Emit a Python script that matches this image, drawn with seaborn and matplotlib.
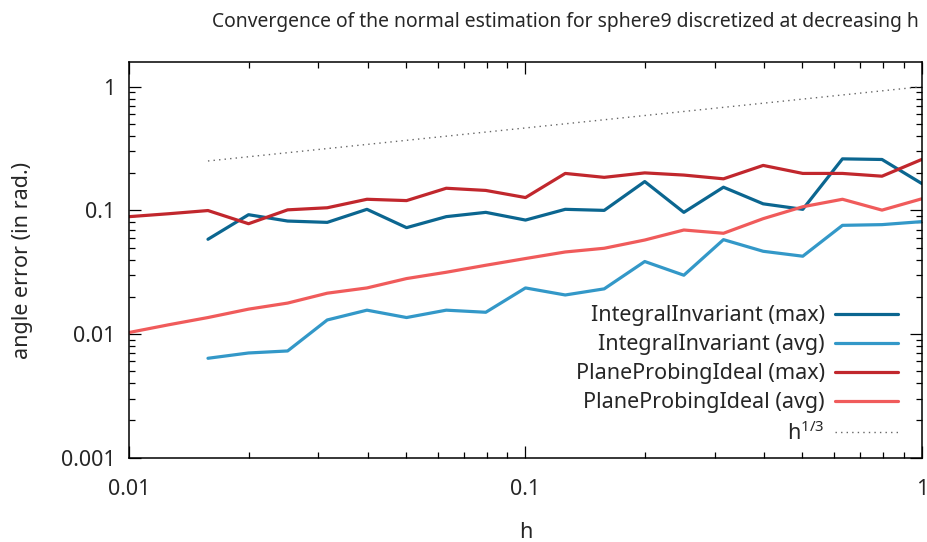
import numpy as np
import pandas as pd
import matplotlib
matplotlib.use("Agg")
import matplotlib.pyplot as plt
import seaborn as sns
from matplotlib.ticker import FixedLocator, FixedFormatter, LogLocator, NullFormatter

# Grid steps (h) for each estimator
h_ii = [1.0, 0.794, 0.631, 0.501, 0.398, 0.316, 0.251, 0.2, 0.158, 0.126,
        0.1, 0.0794, 0.0631, 0.0501, 0.0398, 0.0316, 0.0251, 0.02, 0.0158]
h_pp = h_ii + [0.0126, 0.01]

# Angle errors (rad.)
ii_max = [0.165, 0.258, 0.261, 0.102, 0.113, 0.154, 0.0964, 0.171, 0.100, 0.102,
          0.0835, 0.0964, 0.089, 0.0725, 0.102, 0.080, 0.082, 0.0923, 0.0584]
ii_avg = [0.0811, 0.0767, 0.0757, 0.0426, 0.0467, 0.058, 0.0299, 0.0386, 0.0232, 0.0207,
          0.0236, 0.0150, 0.0156, 0.0136, 0.0156, 0.0130, 0.0073, 0.00703, 0.00637]
pp_max = [0.258, 0.189, 0.199, 0.199, 0.231, 0.180, 0.193, 0.201, 0.185, 0.199,
          0.127, 0.145, 0.151, 0.120, 0.123, 0.105, 0.101, 0.078, 0.0997, 0.094, 0.089]
pp_avg = [0.124, 0.1005, 0.123, 0.107, 0.0857, 0.0653, 0.0694, 0.0576, 0.0494, 0.0461,
          0.0408, 0.036, 0.0316, 0.0281, 0.0236, 0.0214, 0.0178, 0.0159, 0.0136, 0.0119, 0.0103]
ref_third = list(np.cbrt(h_ii))

series = [
    ("IntegralInvariant (max)", h_ii, ii_max, "#0b6690", "-", 2.3),
    ("IntegralInvariant (avg)", h_ii, ii_avg, "#3398c8", "-", 2.3),
    ("PlaneProbingIdeal (max)", h_pp, pp_max, "#c1272d", "-", 2.3),
    ("PlaneProbingIdeal (avg)", h_pp, pp_avg, "#f05b5b", "-", 2.3),
    ("h$^{1/3}$", h_ii, ref_third, "#666666", (0, (1, 3)), 1.0),
]

FS = 15.5

sns.set_style("white")
plt.rcParams["font.family"] = ["Noto Sans", "DejaVu Sans"]
plt.rcParams["mathtext.fontset"] = "custom"
plt.rcParams["mathtext.rm"] = "Noto Sans"

fig = plt.figure(figsize=(9.28, 5.42), dpi=100)
ax = fig.add_axes([0.1393, 0.1555, 0.9932 - 0.1393, 0.8847 - 0.1555])

for label, hx, vals, color, ls, lw in series:
    df = pd.DataFrame({"h": hx, "err": vals})
    sns.lineplot(data=df, x="h", y="err", ax=ax, color=color, linestyle=ls,
                 linewidth=lw, label=label, sort=True, estimator=None)

ax.set_xscale("log")
ax.set_yscale("log")
ax.set_xlim(0.01, 1)
ax.set_ylim(0.001, 1.57)

ax.xaxis.set_major_locator(FixedLocator([0.01, 0.1, 1]))
ax.xaxis.set_major_formatter(FixedFormatter(["0.01", "0.1", "1"]))
ax.yaxis.set_major_locator(FixedLocator([0.001, 0.01, 0.1, 1]))
ax.yaxis.set_major_formatter(FixedFormatter(["0.001", "0.01", "0.1", "1"]))
ax.xaxis.set_minor_locator(LogLocator(base=10, subs=np.arange(2, 10)))
ax.yaxis.set_minor_locator(LogLocator(base=10, subs=np.arange(2, 10)))
ax.xaxis.set_minor_formatter(NullFormatter())
ax.yaxis.set_minor_formatter(NullFormatter())

ax.tick_params(which="both", direction="in", top=True, right=True,
               bottom=True, left=True, color="black", width=0.9)
ax.tick_params(which="major", length=8.4, labelsize=FS)
ax.tick_params(which="minor", length=4.2)
ax.tick_params(axis="x", which="major", pad=15)
ax.tick_params(axis="y", which="major", pad=10)

for sp in ax.spines.values():
    sp.set_visible(True)
    sp.set_color("black")
    sp.set_linewidth(1.1)

ax.set_xlabel("h", fontsize=FS, labelpad=16)
ax.set_ylabel("angle error (in rad.)", fontsize=FS, labelpad=20)

leg = ax.legend(loc="lower right", bbox_to_anchor=(0.970, 0.033), frameon=False,
                markerfirst=False, fontsize=FS, handlelength=2.93,
                handletextpad=0.47, labelspacing=0.37, borderaxespad=0,
                borderpad=0)
for t in leg.get_texts():
    t.set_ha("right")

fig.text(565 / 928, 1 - 22 / 542,
         "Convergence of the normal estimation for sphere9 discretized at decreasing h",
         ha="center", va="center", fontsize=13.9)

fig.savefig("out.png", dpi=100)
